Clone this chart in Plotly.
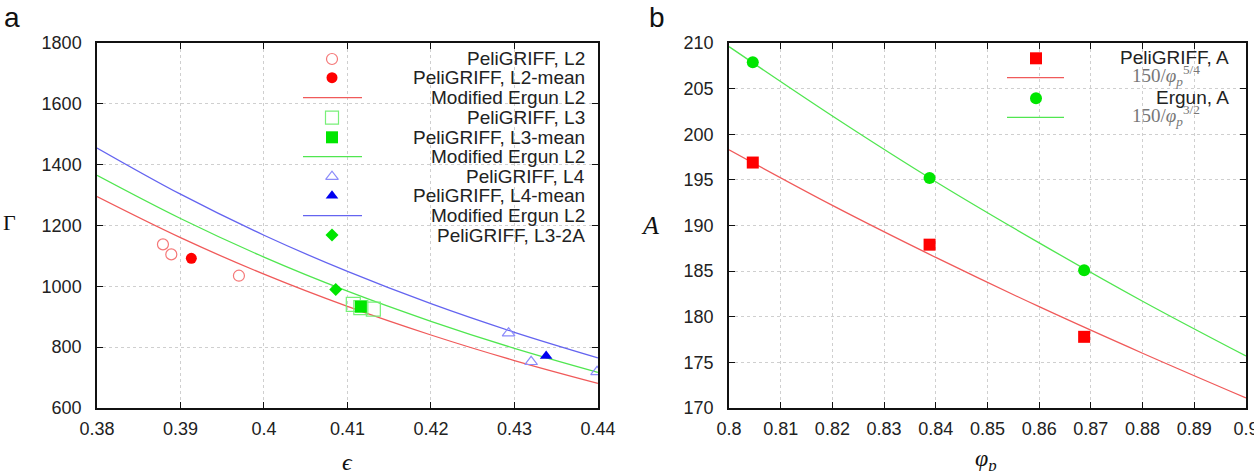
import plotly.graph_objects as go

W, H = 1254, 471

# ---------------- Panel a data ----------------
eps_L2 = [0.3879, 0.3889, 0.3970]
gam_L2 = [1138, 1105, 1035]
eps_L2m = [0.3913]
gam_L2m = [1092]
eps_L3 = [0.4107, 0.4116, 0.4131]
gam_L3 = [941, 930, 925]
eps_L3m = [0.4116]
gam_L3m = [933]
eps_L4 = [0.4293, 0.4320, 0.4399]
gam_L4 = [846, 752, 719]
eps_L4m = [0.4338]
gam_L4m = [771]
eps_L32A = [0.4086]
gam_L32A = [990]

eps_curve = [0.38, 0.39, 0.40, 0.41, 0.42, 0.43, 0.44]
ergun_L2 = [1295, 1160, 1040, 934, 840, 756, 681]
ergun_L3 = [1365, 1223, 1096, 984, 885, 796, 717]
ergun_L4 = [1455, 1303, 1168, 1049, 943, 849, 765]

# ---------------- Panel b data ----------------
phi_pts = [0.8046, 0.8388, 0.8687]
A_peli = [196.9, 187.9, 177.8]
A_ergun = [207.9, 195.2, 185.1]
phi_curve = [0.80, 0.82, 0.84, 0.86, 0.88, 0.90]
A_fit54 = [198.3, 192.2, 186.5, 181.1, 176.0, 171.1]
A_fit32 = [209.6, 202.0, 194.8, 188.1, 181.7, 175.7]

RED_L = 'rgb(240,90,90)'
GRN_L = 'rgb(80,230,80)'
BLU_L = 'rgb(100,100,240)'
RED_O = 'rgb(245,120,120)'
GRN_O = 'rgb(120,240,120)'
BLU_O = 'rgb(140,140,250)'
RED = '#ff0000'
GRN = '#00e600'
BLU = '#0000f0'

fig = go.Figure()

def sc(x, y, xa, ya, **kw):
    fig.add_trace(go.Scatter(x=x, y=y, xaxis=xa, yaxis=ya, showlegend=False, hoverinfo='skip', **kw))

def open_marker(sym, col, size):
    return dict(symbol=sym, size=size, color=col, line=dict(color=col, width=1.2))

# panel a curves
sc(eps_curve, ergun_L2, 'x', 'y', mode='lines', line=dict(color=RED_L, width=1.3, shape='spline'))
sc(eps_curve, ergun_L3, 'x', 'y', mode='lines', line=dict(color=GRN_L, width=1.3, shape='spline'))
sc(eps_curve, ergun_L4, 'x', 'y', mode='lines', line=dict(color=BLU_L, width=1.3, shape='spline'))
# panel a markers
sc(eps_L2, gam_L2, 'x', 'y', mode='markers', marker=open_marker('circle-open', RED_O, 11))
sc(eps_L2m, gam_L2m, 'x', 'y', mode='markers', marker=dict(symbol='circle', size=11, color=RED))
sc(eps_L3, gam_L3, 'x', 'y', mode='markers', marker=open_marker('square-open', GRN_O, 14))
sc(eps_L3m, gam_L3m, 'x', 'y', mode='markers', marker=dict(symbol='square', size=12, color=GRN))
sc(eps_L4, gam_L4, 'x', 'y', mode='markers', marker=open_marker('triangle-up-open', BLU_O, 11))
sc(eps_L4m, gam_L4m, 'x', 'y', mode='markers', marker=dict(symbol='triangle-up', size=11, color=BLU))
sc(eps_L32A, gam_L32A, 'x', 'y', mode='markers', marker=dict(symbol='diamond', size=10, color=GRN))

# panel b
sc(phi_curve, A_fit54, 'x2', 'y2', mode='lines', line=dict(color=RED_L, width=1.3, shape='spline'))
sc(phi_curve, A_fit32, 'x2', 'y2', mode='lines', line=dict(color=GRN_L, width=1.3, shape='spline'))
sc(phi_pts, A_peli, 'x2', 'y2', mode='markers', marker=dict(symbol='square', size=12, color=RED))
sc(phi_pts, A_ergun, 'x2', 'y2', mode='markers', marker=dict(symbol='circle', size=12, color=GRN))

# ---------------- legends (decorations, in pixel space) ----------------
leg_a_rows = [59, 77.7, 97.7, 117.7, 137.3, 156.7, 176.7, 195.7, 215.7, 235]
leg_a_text = ['PeliGRIFF, L2', 'PeliGRIFF, L2-mean', 'Modified Ergun L2',
              'PeliGRIFF, L3', 'PeliGRIFF, L3-mean', 'Modified Ergun L2',
              'PeliGRIFF, L4', 'PeliGRIFF, L4-mean', 'Modified Ergun L2',
              'PeliGRIFF, L3-2A']
leg_a_kind = [('circle-open', RED_O, 11), ('circle', RED, 11), ('line', RED_L, 0),
              ('square-open', GRN_O, 13), ('square', GRN, 12), ('line', GRN_L, 0),
              ('triangle-up-open', BLU_O, 11), ('triangle-up', BLU, 11), ('line', BLU_L, 0),
              ('diamond', GRN, 10)]

shapes = []
annotations = []

def px2py(py):
    return 1 - py / H

for yy, txt, (kind, col, sz) in zip(leg_a_rows, leg_a_text, leg_a_kind):
    if kind == 'line':
        shapes.append(dict(type='line', xref='paper', yref='paper', x0=303 / W, x1=362 / W,
                           y0=px2py(yy), y1=px2py(yy), line=dict(color=col, width=1.3)))
    else:
        if 'open' in kind:
            mk = open_marker(kind, col, sz)
        else:
            mk = dict(symbol=kind, size=sz, color=col)
        sc([332], [yy], 'x3', 'y3', mode='markers', marker=mk)
    annotations.append(dict(xref='paper', yref='paper', x=587 / W, y=px2py(yy), xanchor='right',
                            yanchor='middle', text=txt, showarrow=False,
                            font=dict(family='Liberation Sans', size=19, color='#222')))

# panel b legend
sc([1036], [58.3], 'x3', 'y3', mode='markers', marker=dict(symbol='square', size=12, color=RED))
sc([1036], [98.3], 'x3', 'y3', mode='markers', marker=dict(symbol='circle', size=12, color=GRN))
shapes.append(dict(type='line', xref='paper', yref='paper', x0=1007 / W, x1=1064 / W,
                   y0=px2py(77.7), y1=px2py(77.7), line=dict(color=RED_L, width=1.3)))
shapes.append(dict(type='line', xref='paper', yref='paper', x0=1007 / W, x1=1064 / W,
                   y0=px2py(117.3), y1=px2py(117.3), line=dict(color=GRN_L, width=1.3)))
for yy, txt in [(58, 'PeliGRIFF, A'), (98, 'Ergun, A')]:
    annotations.append(dict(xref='paper', yref='paper', x=1231 / W, y=px2py(yy), xanchor='right',
                            yanchor='middle', text=txt, showarrow=False,
                            font=dict(family='Liberation Sans', size=19, color='#222')))
for yy, txt in [(76, '150/<i>φ</i><sub><i>p</i></sub><sup>5/4</sup>'),
                (116, '150/<i>φ</i><sub><i>p</i></sub><sup>3/2</sup>')]:
    annotations.append(dict(xref='paper', yref='paper', x=1202 / W, y=px2py(yy), xanchor='right',
                            yanchor='middle', text=txt, showarrow=False,
                            font=dict(family='Liberation Serif', size=19, color='#777')))

# panel labels and axis titles
annotations += [
    dict(xref='paper', yref='paper', x=12 / W, y=px2py(18), text='a', showarrow=False,
         xanchor='center', yanchor='middle', font=dict(family='Liberation Sans', size=28, color='#111')),
    dict(xref='paper', yref='paper', x=657 / W, y=px2py(18), text='b', showarrow=False,
         xanchor='center', yanchor='middle', font=dict(family='Liberation Sans', size=28, color='#111')),
    dict(xref='paper', yref='paper', x=9 / W, y=px2py(222), text='Γ', showarrow=False,
         xanchor='center', yanchor='middle', font=dict(family='Liberation Serif', size=22, color='#111')),
    dict(xref='paper', yref='paper', x=650 / W, y=px2py(225), text='<i>A</i>', showarrow=False,
         xanchor='center', yanchor='middle', font=dict(family='Liberation Serif', size=26, color='#111')),
    dict(xref='paper', yref='paper', x=347 / W, y=px2py(462), text='<i>ϵ</i>', showarrow=False,
         xanchor='center', yanchor='middle', font=dict(family='Liberation Serif', size=24, color='#111')),
    dict(xref='paper', yref='paper', x=986 / W, y=px2py(460), text='<i>φ</i><sub><i>p</i></sub>',
         showarrow=False, xanchor='center', yanchor='middle',
         font=dict(family='Liberation Serif', size=24, color='#111')),
]

tick_font = dict(family='Liberation Sans', size=18, color='#222')
common = dict(showline=True, linecolor='#111', linewidth=1.5, mirror='ticks', ticks='inside',
              ticklen=6, tickcolor='#111', showgrid=True, gridcolor='#cfcfcf', griddash='dot',
              gridwidth=1, zeroline=False, tickfont=tick_font, automargin=False,
              ticklabeloverflow='allow')

ya0, ya1 = 1 - 408 / H, 1 - 43 / H

fig.update_layout(
    width=W, height=H, margin=dict(l=0, r=0, t=0, b=0, pad=0, autoexpand=False),
    paper_bgcolor='white', plot_bgcolor='rgba(0,0,0,0)', showlegend=False,
    xaxis=dict(domain=[97 / W, 598 / W], range=[0.38, 0.44001], dtick=0.01, tick0=0.38,
               anchor='y', ticklabelstandoff=4, **common),
    yaxis=dict(domain=[ya0, ya1], range=[600, 1800], dtick=200, tick0=600,
               anchor='x', ticklabelstandoff=10, **common),
    xaxis2=dict(domain=[729 / W, 1246 / W], range=[0.8, 0.90001], dtick=0.01, tick0=0.8,
                anchor='y2', ticklabelstandoff=4, **common),
    yaxis2=dict(domain=[ya0, ya1], range=[170, 210], dtick=5, tick0=170,
                anchor='x2', ticklabelstandoff=10, **common),
    xaxis3=dict(domain=[0, 1], range=[0, W], visible=False, anchor='y3', fixedrange=True,
                showgrid=False, automargin=False),
    yaxis3=dict(domain=[0, 1], range=[H, 0], visible=False, anchor='x3', fixedrange=True,
                showgrid=False, automargin=False),
    shapes=shapes, annotations=annotations,
)

fig.write_html('out.html')
